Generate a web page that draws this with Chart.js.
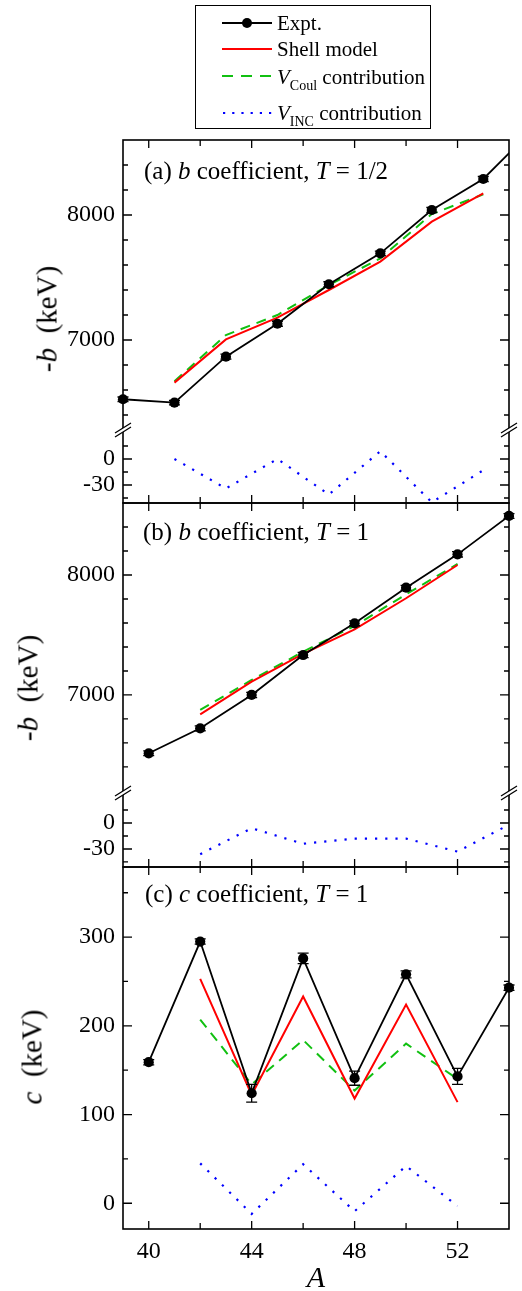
<!DOCTYPE html>
<html><head><meta charset="utf-8">
<script src="https://cdn.jsdelivr.net/npm/chart.js@4.4.1/dist/chart.umd.min.js"></script>
<style>
html,body{margin:0;padding:0;background:#fff;}
#wrap{position:relative;width:522px;height:1291px;overflow:hidden;font-family:"Liberation Serif","Times New Roman",serif;color:#000;}
canvas{position:absolute;left:0;top:0;}
.t{position:absolute;white-space:nowrap;line-height:1;}
.rot{position:absolute;white-space:nowrap;line-height:1;font-size:29px;transform:translate(-50%,-50%) rotate(-90deg);}
.lg{position:absolute;white-space:nowrap;line-height:1;font-size:21px;left:277px;}
.lg sub{font-size:14px;vertical-align:-6px;line-height:0;}
.pl{font-size:25px;}
</style></head>
<body><div id="wrap">
<canvas id="c" width="522" height="1291"></canvas>

<div style="position:absolute;left:195px;top:5px;width:234px;height:122px;border:1.5px solid #000;"></div>
<svg style="position:absolute;left:0;top:0" width="522" height="140">
  <line x1="222" y1="23" x2="272" y2="23" stroke="#000" stroke-width="2"/>
  <circle cx="247" cy="23" r="5" fill="#000"/>
  <line x1="222" y1="49" x2="272" y2="49" stroke="#ff0000" stroke-width="2"/>
  <line x1="222" y1="76" x2="272" y2="76" stroke="#11c011" stroke-width="2.2" stroke-dasharray="11 8"/>
  <line x1="223" y1="113" x2="272" y2="113" stroke="#0000ff" stroke-width="2.2" stroke-dasharray="2.2 7"/>
</svg>
<div class="lg" style="top:13px">Expt.</div>
<div class="lg" style="top:39px">Shell model</div>
<div class="lg" style="top:67px"><i>V</i><sub>Coul</sub> contribution</div>
<div class="lg" style="top:103px"><i>V</i><sub>INC</sub> contribution</div>

<div class="t pl" style="left:144px;top:158px">(a) <i>b</i> coefficient, <i>T</i> = 1/2</div>
<div class="t pl" style="left:143px;top:519px">(b) <i>b</i> coefficient, <i>T</i> = 1</div>
<div class="t pl" style="left:145px;top:881px">(c) <i>c</i> coefficient, <i>T</i> = 1</div>

<div class="rot" style="left:47px;top:319px">-<i>b</i>&nbsp; (keV)</div>
<div class="rot" style="left:28px;top:688px">-<i>b</i>&nbsp; (keV)</div>
<div class="rot" style="left:32px;top:1057px"><i>c</i>&nbsp; (keV)</div>
</div>

<script>
const FONT = '"Liberation Serif", "Times New Roman", serif';

// ---------- axes ----------
const xMin = 39, xMax = 54;
const xLabelTicks = [40, 44, 48, 52];
const xMinorTicks = [42, 46, 50];

const bUpperMajor = [7000, 8000];
const bUpperMinor = [6400, 6600, 6800, 7200, 7400, 7600, 7800, 8200, 8400];
const incMajor = [0, -30];
const incMinor = [15, -15, -45];
const cMajor = [0, 100, 200, 300];
const cMinor = [50, 150, 250, 350];

// ---------- panel (a): b coefficient, T = 1/2 ----------
const aMass = [39, 41, 43, 45, 47, 49, 51, 53, 55];
const aExpt = [6526, 6499, 6867, 7130, 7446, 7693, 8040, 8288, 8700];
const aExptErr = [18, 18, 20, 20, 20, 18, 20, 20, 20];
const aModelMass = [41, 43, 45, 47, 49, 51, 53];
const aShell = [6659, 7005, 7179, 7400, 7627, 7947, 8173];
const aCoul = [6670, 7040, 7200, 7440, 7653, 8008, 8165];
const aInc = [0, -34, 0, -41, 9, -50, -13];

// ---------- panel (b): b coefficient, T = 1 ----------
const bMass = [40, 42, 44, 46, 48, 50, 52, 54];
const bExpt = [6514, 6722, 7000, 7333, 7597, 7894, 8172, 8492];
const bExptErr = [20, 20, 22, 22, 20, 20, 22, 20];
const bModelMass = [42, 44, 46, 48, 50, 52];
const bShell = [6839, 7111, 7342, 7547, 7806, 8083];
const bCoul = [6875, 7125, 7361, 7575, 7839, 8092];
const bIncMass = [42, 44, 46, 48, 50, 52, 54];
const bInc = [-36, -6, -24, -18, -18, -33, -2];

// ---------- panel (c): c coefficient, T = 1 ----------
const cMass = [40, 42, 44, 46, 48, 50, 52, 54];
const cExpt = [159, 295, 124, 276, 141, 258, 143, 243];
const cExptErr = [3, 3, 10, 6, 8, 4, 9, 3];
const cModelMass = [42, 44, 46, 48, 50, 52];
const cShell = [253, 122, 233, 118, 224, 114];
const cCoul = [207, 134, 184, 127, 180, 140];
const cInc = [45, -12, 44, -9, 42, -3];

const BLACK = '#000000', RED = '#ff0000', GREEN = '#11c011', BLUE = '#0000ff';

function pts(xs, ys) { return xs.map((x, i) => ({x: x, y: ys[i]})); }

function yAxis(min, max, stackW, order, major) {
  return {
    type: 'linear', position: 'left', stack: 'panels', stackWeight: stackW, weight: order,
    min: min, max: max,
    grid: {display: false, drawTicks: false}, border: {display: false},
    ticks: {autoSkip: false, padding: 8, color: '#000', font: {family: FONT, size: 24}, callback: v => String(v)},
    afterBuildTicks: s => { s.ticks = major.map(v => ({value: v})); },
    afterFit: s => { s.width = 123; }
  };
}

function expSets(xs, ys, errs, axis) {
  return [
    {data: pts(xs, ys), yAxisID: axis, borderColor: BLACK, borderWidth: 1.8, pointRadius: 0, fill: false},
    {data: pts(xs, ys), yAxisID: axis, showLine: false, pointRadius: 5.1, pointBackgroundColor: BLACK,
     pointBorderWidth: 0, clip: false, errors: errs}
  ];
}
function lineSet(xs, ys, axis, color, dash, width) {
  return {data: pts(xs, ys), yAxisID: axis, borderColor: color, borderWidth: width, borderDash: dash,
          pointRadius: 0, fill: false};
}

const datasets = [].concat(
  expSets(aMass, aExpt, aExptErr, 'yA'),
  expSets(bMass, bExpt, bExptErr, 'yB'),
  expSets(cMass, cExpt, cExptErr, 'yC'),
  [
    lineSet(aModelMass, aShell, 'yA', RED, [], 2),
    lineSet(aModelMass, aCoul, 'yA', GREEN, [10, 7], 2),
    lineSet(aModelMass, aInc, 'yAi', BLUE, [2.2, 8], 2.2),
    lineSet(bModelMass, bShell, 'yB', RED, [], 2),
    lineSet(bModelMass, bCoul, 'yB', GREEN, [10, 7], 2),
    lineSet(bIncMass, bInc, 'yBi', BLUE, [2.2, 8], 2.2),
    lineSet(cModelMass, cShell, 'yC', RED, [], 2),
    lineSet(cModelMass, cCoul, 'yC', GREEN, [10, 7], 2),
    lineSet(cModelMass, cInc, 'yC', BLUE, [2.2, 8], 2.2)
  ]
);

const axisTicks = {
  yA: [bUpperMajor, bUpperMinor],
  yAi: [incMajor, incMinor],
  yB: [bUpperMajor, bUpperMinor],
  yBi: [incMajor, incMinor],
  yC: [cMajor, cMinor]
};
const panels = [['yA', 'yAi'], ['yB', 'yBi'], ['yC', 'yC']];

const framePlugin = {
  id: 'frame',
  beforeDatasetsDraw(chart) {
    const ctx = chart.ctx, ca = chart.chartArea, xs = chart.scales.x;
    ctx.save();
    ctx.strokeStyle = '#000';
    ctx.lineWidth = 1.6;
    panels.forEach(p => {
      const top = chart.scales[p[0]].top, bot = chart.scales[p[1]].bottom;
      ctx.strokeRect(ca.left, top, ca.right - ca.left, bot - top);
      ctx.lineWidth = 1.3;
      ctx.beginPath();
      xLabelTicks.forEach(v => { const px = xs.getPixelForValue(v);
        ctx.moveTo(px, top); ctx.lineTo(px, top + 8); ctx.moveTo(px, bot); ctx.lineTo(px, bot - 8); });
      xMinorTicks.forEach(v => { const px = xs.getPixelForValue(v);
        ctx.moveTo(px, top); ctx.lineTo(px, top + 6); ctx.moveTo(px, bot); ctx.lineTo(px, bot - 6); });
      ctx.stroke();
      ctx.lineWidth = 1.6;
    });
    ctx.lineWidth = 1.3;
    ctx.beginPath();
    Object.keys(axisTicks).forEach(id => {
      const s = chart.scales[id];
      const [maj, min] = axisTicks[id];
      maj.forEach(v => { const py = s.getPixelForValue(v);
        ctx.moveTo(ca.left, py); ctx.lineTo(ca.left + 9, py); ctx.moveTo(ca.right, py); ctx.lineTo(ca.right - 9, py); });
      min.forEach(v => { const py = s.getPixelForValue(v);
        if (py <= s.top + 1 || py >= s.bottom - 1) return;
        ctx.moveTo(ca.left, py); ctx.lineTo(ca.left + 5, py); ctx.moveTo(ca.right, py); ctx.lineTo(ca.right - 5, py); });
    });
    ctx.stroke();
    ctx.restore();
  },
  afterDatasetsDraw(chart) {
    const ctx = chart.ctx, ca = chart.chartArea;
    ctx.save();
    // error bars
    chart.data.datasets.forEach((ds, i) => {
      if (!ds.errors) return;
      const ys = chart.scales[ds.yAxisID], xs = chart.scales.x;
      ctx.strokeStyle = '#000'; ctx.lineWidth = 1.3;
      ds.data.forEach((d, j) => {
        if (d.x > xMax) return;
        const px = xs.getPixelForValue(d.x);
        const p1 = ys.getPixelForValue(d.y + ds.errors[j]), p2 = ys.getPixelForValue(d.y - ds.errors[j]);
        ctx.beginPath();
        ctx.moveTo(px, p1); ctx.lineTo(px, p2);
        ctx.moveTo(px - 5.5, p1); ctx.lineTo(px + 5.5, p1);
        ctx.moveTo(px - 5.5, p2); ctx.lineTo(px + 5.5, p2);
        ctx.stroke();
      });
    });
    // axis breaks
    [['yA', 'yAi'], ['yB', 'yBi']].forEach(p => {
      const Y = chart.scales[p[0]].bottom;
      [ca.left, ca.right].forEach(X => {
        ctx.fillStyle = '#fff';
        ctx.beginPath();
        ctx.moveTo(X - 8, Y + 3); ctx.lineTo(X + 8, Y - 7); ctx.lineTo(X + 8, Y - 3); ctx.lineTo(X - 8, Y + 7);
        ctx.closePath(); ctx.fill();
        ctx.strokeStyle = '#000'; ctx.lineWidth = 1.3;
        ctx.beginPath();
        ctx.moveTo(X - 8, Y + 3); ctx.lineTo(X + 8, Y - 7);
        ctx.moveTo(X - 8, Y + 7); ctx.lineTo(X + 8, Y - 3);
        ctx.stroke();
      });
    });
    ctx.restore();
  }
};

new Chart(document.getElementById('c'), {
  type: 'line',
  data: {datasets: datasets},
  options: {
    responsive: false, animation: false, devicePixelRatio: 1, events: [],
    layout: {padding: {top: 140, right: 13, bottom: 0, left: 0}},
    plugins: {legend: {display: false}, tooltip: {enabled: false}},
    elements: {line: {tension: 0}},
    scales: {
      x: {
        type: 'linear', position: 'bottom', min: xMin, max: xMax,
        grid: {display: false, drawTicks: false}, border: {display: false},
        ticks: {autoSkip: false, padding: 8, color: '#000', font: {family: FONT, size: 24}, callback: v => String(v)},
        afterBuildTicks: s => { s.ticks = xLabelTicks.map(v => ({value: v})); },
        afterFit: s => { s.height = 62; },
        title: {display: true, text: 'A', color: '#000', padding: {top: 0, bottom: 0},
                font: {family: FONT, size: 30, style: 'italic', lineHeight: 0.8}}
      },
      yC: yAxis(-29, 379, 362, 1, cMajor),
      yBi: yAxis(-50.8, 34.6, 74, 2, incMajor),
      yB: yAxis(6183, 8600, 290, 3, bUpperMajor),
      yAi: yAxis(-50.8, 33.5, 73, 4, incMajor),
      yA: yAxis(6280, 8600, 290, 5, bUpperMajor)
    }
  },
  plugins: [framePlugin]
});
</script>
</body></html>
